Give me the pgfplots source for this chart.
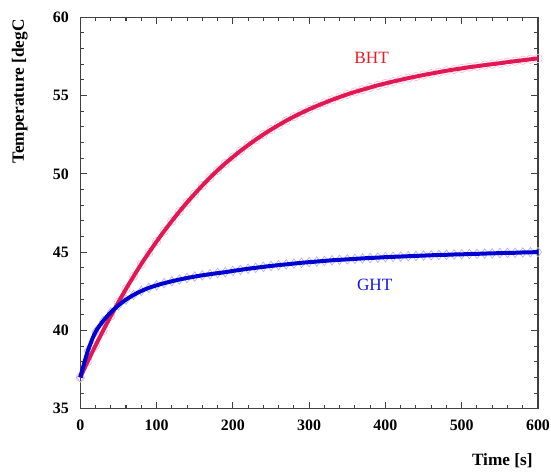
\documentclass[border=0pt]{standalone}
\usepackage{fontspec}
\setmainfont{Liberation Serif}
\usepackage{pgfplots}
\usepackage{pgfplotstable}
\pgfplotsset{compat=1.18}

\definecolor{bhtline}{RGB}{226,24,84}
\definecolor{bhtmark}{RGB}{247,190,214}
\definecolor{bhttext}{RGB}{230,28,40}
\definecolor{ghtline}{RGB}{0,0,210}
\definecolor{ghtmark}{RGB}{175,175,250}
\definecolor{ghttext}{RGB}{20,20,225}

% time [s], BHT and GHT temperatures [degC]
\pgfplotstableread{
t    bht    ght
0    37.00  37.00
10   38.03  38.70
20   39.03  39.90
30   39.99  40.60
40   40.91  41.15
50   41.80  41.60
60   42.65  41.97
70   43.46  42.27
80   44.24  42.52
90   44.97  42.72
100  45.67  42.88
110  46.34  43.02
120  46.98  43.14
130  47.59  43.25
140  48.17  43.35
150  48.72  43.44
160  49.25  43.52
170  49.75  43.59
180  50.22  43.66
190  50.66  43.72
200  51.07  43.80
210  51.46  43.87
220  51.83  43.94
230  52.18  44.00
240  52.51  44.06
250  52.82  44.12
260  53.11  44.17
270  53.39  44.22
280  53.65  44.27
290  53.89  44.32
300  54.12  44.36
310  54.33  44.40
320  54.53  44.44
330  54.72  44.48
340  54.90  44.51
350  55.07  44.54
360  55.23  44.57
370  55.37  44.60
380  55.51  44.63
390  55.65  44.65
400  55.77  44.68
410  55.89  44.70
420  56.00  44.72
430  56.11  44.74
440  56.21  44.76
450  56.31  44.78
460  56.40  44.80
470  56.49  44.82
480  56.58  44.83
490  56.66  44.85
500  56.73  44.86
510  56.81  44.88
520  56.87  44.89
530  56.94  44.91
540  57.00  44.92
550  57.06  44.94
560  57.13  44.95
570  57.19  44.96
580  57.25  44.98
590  57.31  44.99
600  57.37  45.00
}\temps

\begin{document}
\begin{tikzpicture}
\begin{axis}[
    scale only axis,
    width=345.2pt, height=295.3pt,
    xmin=0, xmax=600, ymin=35, ymax=60,
    xtick={0,100,...,600}, ytick={35,40,...,60},
    minor x tick num=4, minor y tick num=4,
    tick align=inside,
    major tick length=5pt, minor tick length=3pt,
    axis line style={line width=0.9pt, black!75},
    every tick/.style={line width=0.8pt, black!75},
    /pgf/number format/assume math mode=true,
    ticklabel style={font=\fontsize{12}{15}\selectfont\bfseries},
    xticklabel style={yshift=-5pt},
    yticklabel style={xshift=-5pt},
    xlabel={Time [s]}, ylabel={Temperature [degC},
    label style={font=\fontsize{13}{15}\selectfont\bfseries},
    xlabel style={at={(axis description cs:0.922,0)}, anchor=center, yshift=-39pt},
    ylabel style={at={(axis description cs:-0.1319,0.81)}, anchor=center},
    clip=false,
    clip marker paths=true,
]
% measured points
\addplot[only marks, mark=o, mark size=3.2pt, bhtmark, mark options={line width=0.5pt}] table[x=t, y=bht] {\temps};
\addplot[only marks, mark=diamond, mark size=3.6pt, ghtmark, mark options={line width=0.5pt}] table[x=t, y=ght] {\temps};
% fitted curves
\addplot[bhtline, line width=3pt, smooth, no markers] table[x=t, y=bht] {\temps};
\addplot[ghtline, line width=3pt, smooth, no markers] table[x=t, y=ght] {\temps};

\node[bhttext, font=\fontsize{13}{15}\selectfont] at (axis cs:382,57.43) {BHT};
\node[ghttext, font=\fontsize{13}{15}\selectfont] at (axis cs:386,42.9) {GHT};
\end{axis}
\pgfresetboundingbox
\path[use as bounding box] (-60.5pt,-48.75pt) rectangle (355pt,308.25pt);
\end{tikzpicture}
\end{document}
